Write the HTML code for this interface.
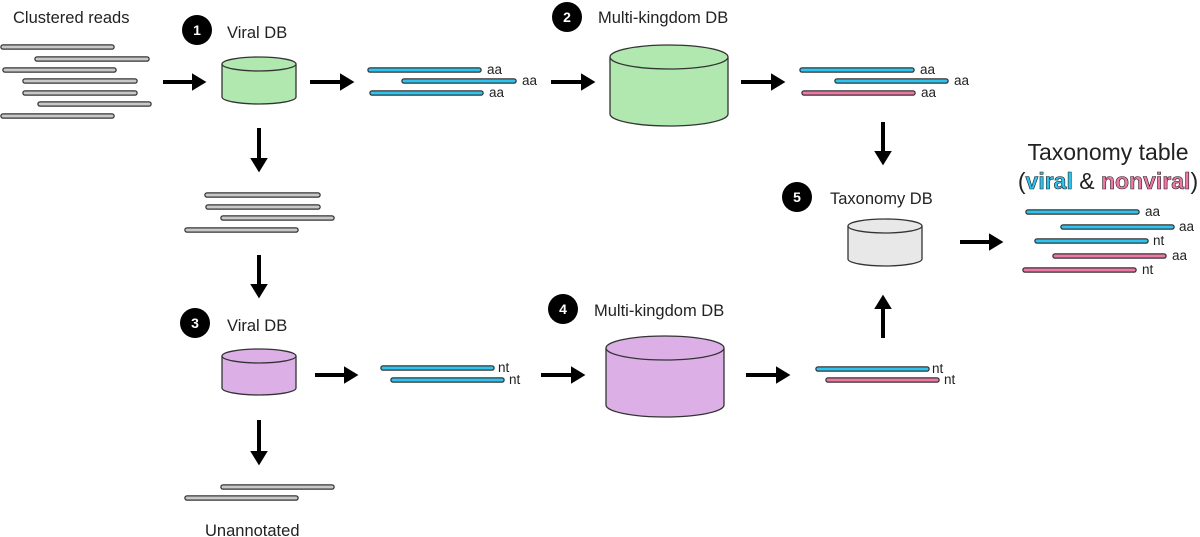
<!DOCTYPE html>
<html><head><meta charset="utf-8"><style>
html,body{margin:0;padding:0;background:#fff;}
svg{display:block;font-family:"Liberation Sans",sans-serif;}
.g{stroke:#333;stroke-width:5.5;stroke-linecap:round;}
.gi{stroke:#c8c8c8;stroke-width:3;stroke-linecap:round;}
.bi{stroke:#2ec4ef;stroke-width:3;stroke-linecap:round;}
.pi{stroke:#ef77a6;stroke-width:3;stroke-linecap:round;}
.lbl{font-size:16.5px;fill:#222;}
.sm{font-size:13.5px;fill:#222;}
.num{font-size:14px;font-weight:bold;fill:#fff;text-anchor:middle;}
</style></head><body>
<svg width="1200" height="537" viewBox="0 0 1200 537">
<defs>
<marker id="ah" markerWidth="4" markerHeight="4.4" refX="0" refY="2.2" orient="auto" markerUnits="strokeWidth">
<path d="M0,0 L3.6,2.2 L0,4.4 z" fill="#000"/></marker>
</defs>

<g id="reads">
<line class="g" x1="3" y1="47" x2="112" y2="47"/><line class="gi" x1="3" y1="47" x2="112" y2="47"/>
<line class="g" x1="37" y1="59" x2="147" y2="59"/><line class="gi" x1="37" y1="59" x2="147" y2="59"/>
<line class="g" x1="5" y1="70" x2="114" y2="70"/><line class="gi" x1="5" y1="70" x2="114" y2="70"/>
<line class="g" x1="25" y1="81" x2="135" y2="81"/><line class="gi" x1="25" y1="81" x2="135" y2="81"/>
<line class="g" x1="25" y1="93" x2="135" y2="93"/><line class="gi" x1="25" y1="93" x2="135" y2="93"/>
<line class="g" x1="40" y1="104" x2="149" y2="104"/><line class="gi" x1="40" y1="104" x2="149" y2="104"/>
<line class="g" x1="3" y1="116" x2="112" y2="116"/><line class="gi" x1="3" y1="116" x2="112" y2="116"/>
<line class="g" x1="207" y1="195" x2="318" y2="195"/><line class="gi" x1="207" y1="195" x2="318" y2="195"/>
<line class="g" x1="208" y1="207" x2="318" y2="207"/><line class="gi" x1="208" y1="207" x2="318" y2="207"/>
<line class="g" x1="223" y1="218" x2="332" y2="218"/><line class="gi" x1="223" y1="218" x2="332" y2="218"/>
<line class="g" x1="187" y1="230" x2="296" y2="230"/><line class="gi" x1="187" y1="230" x2="296" y2="230"/>
<line class="g" x1="223" y1="487" x2="332" y2="487"/><line class="gi" x1="223" y1="487" x2="332" y2="487"/>
<line class="g" x1="187" y1="498" x2="296" y2="498"/><line class="gi" x1="187" y1="498" x2="296" y2="498"/>
<line class="g" x1="370" y1="70" x2="479" y2="70"/><line class="bi" x1="370" y1="70" x2="479" y2="70"/>
<line class="g" x1="404" y1="81" x2="514" y2="81"/><line class="bi" x1="404" y1="81" x2="514" y2="81"/>
<line class="g" x1="372" y1="93" x2="481" y2="93"/><line class="bi" x1="372" y1="93" x2="481" y2="93"/>
<line class="g" x1="802" y1="70" x2="912" y2="70"/><line class="bi" x1="802" y1="70" x2="912" y2="70"/>
<line class="g" x1="837" y1="81" x2="946" y2="81"/><line class="bi" x1="837" y1="81" x2="946" y2="81"/>
<line class="g" x1="804" y1="93" x2="913" y2="93"/><line class="pi" x1="804" y1="93" x2="913" y2="93"/>
<line class="g" x1="383" y1="368" x2="492" y2="368"/><line class="bi" x1="383" y1="368" x2="492" y2="368"/>
<line class="g" x1="393" y1="380" x2="502" y2="380"/><line class="bi" x1="393" y1="380" x2="502" y2="380"/>
<line class="g" x1="818" y1="369" x2="927" y2="369"/><line class="bi" x1="818" y1="369" x2="927" y2="369"/>
<line class="g" x1="828" y1="380" x2="937" y2="380"/><line class="pi" x1="828" y1="380" x2="937" y2="380"/>
<line class="g" x1="1028" y1="212" x2="1137" y2="212"/><line class="bi" x1="1028" y1="212" x2="1137" y2="212"/>
<line class="g" x1="1063" y1="227" x2="1172" y2="227"/><line class="bi" x1="1063" y1="227" x2="1172" y2="227"/>
<line class="g" x1="1037" y1="241" x2="1146" y2="241"/><line class="bi" x1="1037" y1="241" x2="1146" y2="241"/>
<line class="g" x1="1055" y1="256" x2="1164" y2="256"/><line class="pi" x1="1055" y1="256" x2="1164" y2="256"/>
<line class="g" x1="1025" y1="270" x2="1134" y2="270"/><line class="pi" x1="1025" y1="270" x2="1134" y2="270"/>
</g>

<text class="sm" x="487" y="74">aa</text>
<text class="sm" x="522" y="85">aa</text>
<text class="sm" x="489" y="97">aa</text>
<text class="sm" x="920" y="74">aa</text>
<text class="sm" x="954" y="85">aa</text>
<text class="sm" x="921" y="97">aa</text>
<text class="sm" x="498" y="372">nt</text>
<text class="sm" x="509" y="384">nt</text>
<text class="sm" x="932" y="373">nt</text>
<text class="sm" x="944" y="384">nt</text>
<text class="sm" x="1145" y="216">aa</text>
<text class="sm" x="1179" y="231">aa</text>
<text class="sm" x="1153" y="245">nt</text>
<text class="sm" x="1172" y="260">aa</text>
<text class="sm" x="1142" y="274">nt</text>

<g stroke="#000" stroke-width="4" marker-end="url(#ah)">
<line x1="163" y1="82" x2="192" y2="82"/>
<line x1="310" y1="82" x2="340" y2="82"/>
<line x1="551" y1="82" x2="581" y2="82"/>
<line x1="741" y1="82" x2="771" y2="82"/>
<line x1="883" y1="122" x2="883" y2="151"/>
<line x1="960" y1="242" x2="989" y2="242"/>
<line x1="883" y1="338" x2="883" y2="309"/>
<line x1="259" y1="128" x2="259" y2="158"/>
<line x1="259" y1="255" x2="259" y2="284"/>
<line x1="315" y1="375" x2="344" y2="375"/>
<line x1="541" y1="375" x2="571" y2="375"/>
<line x1="746" y1="375" x2="776" y2="375"/>
<line x1="259" y1="420" x2="259" y2="451"/>
</g>

<g stroke="#333" stroke-width="1.3">
<path d="M222,64 V97 A37,7 0 0 0 296,97 V64" fill="#b0e8b0"/>
<ellipse cx="259" cy="64" rx="37" ry="7" fill="#b0e8b0"/>
<path d="M610,57 V114 A59,12 0 0 0 728,114 V57" fill="#b0e8b0"/>
<ellipse cx="669" cy="57" rx="59" ry="12" fill="#b0e8b0"/>
<path d="M848,226 V259 A37,7 0 0 0 922,259 V226" fill="#e8e8e8"/>
<ellipse cx="885" cy="226" rx="37" ry="7" fill="#e8e8e8"/>
<path d="M222,356 V388 A37,7 0 0 0 296,388 V356" fill="#dcb0e6"/>
<ellipse cx="259" cy="356" rx="37" ry="7" fill="#dcb0e6"/>
<path d="M606,348 V405 A59,12 0 0 0 724,405 V348" fill="#dcb0e6"/>
<ellipse cx="665" cy="348" rx="59" ry="12" fill="#dcb0e6"/>
</g>

<circle cx="197" cy="30" r="15" fill="#000"/><text class="num" x="197" y="35">1</text>
<circle cx="567" cy="17" r="15" fill="#000"/><text class="num" x="567" y="22">2</text>
<circle cx="195" cy="323" r="15" fill="#000"/><text class="num" x="195" y="328">3</text>
<circle cx="563" cy="309" r="15" fill="#000"/><text class="num" x="563" y="314">4</text>
<circle cx="797" cy="197" r="15" fill="#000"/><text class="num" x="797" y="202">5</text>

<text class="lbl" x="13" y="23">Clustered reads</text>
<text class="lbl" x="227" y="38">Viral DB</text>
<text class="lbl" x="598" y="23">Multi-kingdom DB</text>
<text class="lbl" x="830" y="204">Taxonomy DB</text>
<text class="lbl" x="227" y="331">Viral DB</text>
<text class="lbl" x="594" y="316">Multi-kingdom DB</text>
<text class="lbl" x="205" y="536">Unannotated</text>
<text x="1108" y="160" text-anchor="middle" style="font-size:23px;fill:#222">Taxonomy table</text>
<text x="1108" y="189" text-anchor="middle" style="font-size:23px;fill:#222">(<tspan fill="#2ec4ef" stroke="#222" stroke-width="0.6" font-weight="bold">viral</tspan> &amp; <tspan fill="#ef77a6" stroke="#222" stroke-width="0.6" font-weight="bold">nonviral</tspan>)</text>
</svg>
</body></html>
